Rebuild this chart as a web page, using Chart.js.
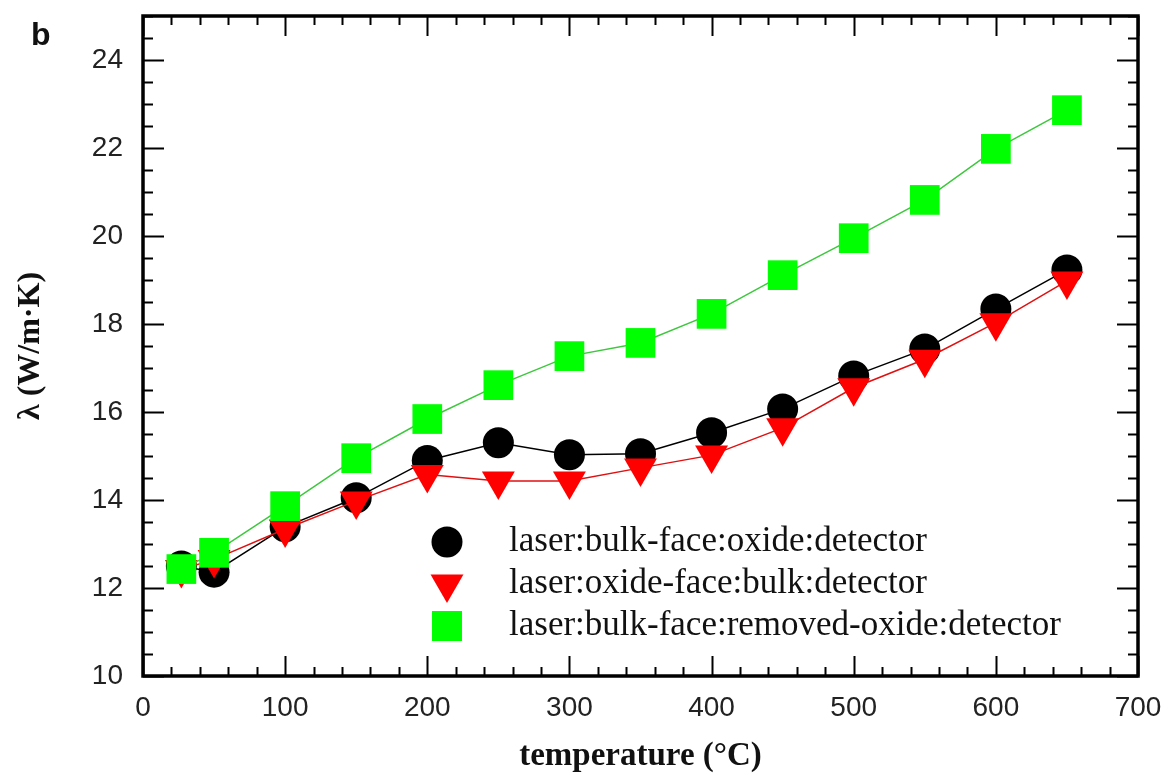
<!DOCTYPE html>
<html>
<head>
<meta charset="utf-8">
<title>thermal conductivity vs temperature</title>
<script src="https://cdn.jsdelivr.net/npm/chart.js"></script>
<style>
    html, body { margin: 0; padding: 0; background: #fff; overflow: hidden; }
    /* shifted up a few px so the plot frame sits where the original one does */
    #wrap { position: relative; top: -5px; width: 1164px; height: 781px; }
</style>
</head>
<body>
<div id="wrap"><canvas id="chart"></canvas></div>
<script>
// temperatures (°C)
const temps = [27, 50, 100, 150, 200, 250, 300, 350, 400, 450, 500, 550, 600, 650];

// lambda (W/m.K) per configuration
const bulkFaceOxide = [12.5, 12.36, 13.39, 14.05, 14.9, 15.3, 15.03, 15.05, 15.53, 16.07, 16.82, 17.43, 18.34, 19.23];
const oxideFaceBulk = [12.42, 12.65, 13.34, 13.98, 14.58, 14.43, 14.43, 14.73, 15.02, 15.64, 16.55, 17.2, 18.03, 18.98];
const bulkFaceRemovedOxide = [12.43, 12.8, 13.86, 14.95, 15.84, 16.61, 17.27, 17.57, 18.23, 19.11, 19.95, 20.82, 21.98, 22.86];

const seriesLabels = [
    'laser:bulk-face:oxide:detector',
    'laser:oxide-face:bulk:detector',
    'laser:bulk-face:removed-oxide:detector'
];

// axis ticks
const xMin = 0, xMax = 700, xMajor = 100, xMinor = 20;
const yMin = 10, yMax = 25, yMajor = 2, yMinor = 0.5;

const toPoints = (vals) => temps.map((t, i) => ({ x: t, y: vals[i] }));

// canvas is moved up by this much
const SHIFT = 5;

function noPadding(scale) {
    scale.paddingLeft = 0;
    scale.paddingRight = 0;
    scale.paddingTop = 0;
    scale.paddingBottom = 0;
}

// inward tick marks on all four sides + heavy frame
const frameTicks = {
    id: 'frameTicks',
    afterDatasetsDraw(chart) {
        const { ctx, chartArea: a, scales: { x, y } } = chart;
        ctx.save();
        ctx.strokeStyle = '#000';
        ctx.lineWidth = 2;
        ctx.beginPath();
        for (let v = xMin; v <= xMax + 1e-6; v += xMinor) {
            const px = Math.round(x.getPixelForValue(v)) + 0.5;
            const len = Math.abs(v % xMajor) < 1e-6 ? 20 : 9;
            ctx.moveTo(px, a.bottom); ctx.lineTo(px, a.bottom - len);
            ctx.moveTo(px, a.top); ctx.lineTo(px, a.top + len);
        }
        for (let v = yMin; v <= yMax + 1e-6; v += yMinor) {
            const py = Math.round(y.getPixelForValue(v)) + 0.5;
            const len = Math.abs((v - yMin) % yMajor) < 1e-6 ? 21 : 10;
            ctx.moveTo(a.left, py); ctx.lineTo(a.left + len, py);
            ctx.moveTo(a.right, py); ctx.lineTo(a.right - len, py);
        }
        ctx.stroke();
        ctx.lineWidth = 3.5;
        ctx.strokeRect(a.left, a.top, a.right - a.left, a.bottom - a.top);
        ctx.restore();
    }
};

// legend drawn inside the plot, like the original figure
const innerLegend = {
    id: 'innerLegend',
    afterDraw(chart) {
        const ctx = chart.ctx;
        const mx = 447, tx = 509;
        const rowY = [542, 584, 626];
        ctx.save();
        ctx.translate(0, SHIFT);
        chart.data.datasets.forEach((ds, i) => {
            const cy = rowY[i];
            ctx.fillStyle = ds.pointBackgroundColor;
            ctx.beginPath();
            if (ds.pointStyle === 'circle') {
                ctx.arc(mx, cy, 15.5, 0, Math.PI * 2);
            } else if (ds.pointStyle === 'triangle') {
                const r = 19;
                ctx.moveTo(mx, cy + r);
                ctx.lineTo(mx - r * 0.866, cy - r / 2);
                ctx.lineTo(mx + r * 0.866, cy - r / 2);
                ctx.closePath();
            } else {
                ctx.rect(mx - 15, cy - 15, 30, 30);
            }
            ctx.fill();
            ctx.fillStyle = '#111';
            ctx.font = '35px "Liberation Serif", "Times New Roman", serif';
            ctx.textBaseline = 'alphabetic';
            ctx.fillText(ds.label, tx, cy + 9);
        });
        // panel letter
        ctx.font = 'bold 32px "Liberation Sans", Arial, sans-serif';
        ctx.fillStyle = '#111';
        ctx.fillText('b', 31, 45);
        ctx.restore();
    }
};

const ctx = document.getElementById('chart');
new Chart(ctx, {
    type: 'scatter',
    data: {
        datasets: [{
            label: seriesLabels[0],
            data: toPoints(bulkFaceOxide),
            showLine: true,
            borderColor: '#000',
            borderWidth: 1.5,
            pointStyle: 'circle',
            pointRadius: 15.5,
            pointBackgroundColor: '#000',
            pointBorderColor: '#000',
            pointBorderWidth: 0,
            order: 2
        }, {
            label: seriesLabels[1],
            data: toPoints(oxideFaceBulk),
            showLine: true,
            borderColor: '#e01010',
            borderWidth: 1.5,
            pointStyle: 'triangle',
            rotation: 180,
            pointRadius: 19,
            pointBackgroundColor: '#ff0000',
            pointBorderColor: '#ff0000',
            pointBorderWidth: 0,
            order: 1
        }, {
            label: seriesLabels[2],
            data: toPoints(bulkFaceRemovedOxide),
            showLine: true,
            borderColor: '#3cc83c',
            borderWidth: 1.5,
            pointStyle: 'rect',
            pointRadius: 21,
            pointBackgroundColor: '#00ff00',
            pointBorderColor: '#00ff00',
            pointBorderWidth: 0,
            order: 0
        }]
    },
    options: {
        responsive: true,
        maintainAspectRatio: false,
        animation: false,
        events: [],
        layout: { padding: { left: 0, top: 15, right: 26, bottom: 0 } },
        plugins: {
            legend: { display: false },
            tooltip: { enabled: false }
        },
        scales: {
            x: {
                type: 'linear',
                min: xMin,
                max: xMax,
                grid: { display: false, drawTicks: false },
                border: { display: false },
                ticks: {
                    stepSize: xMajor,
                    padding: 15,
                    color: '#222',
                    font: { family: '"Liberation Sans", Arial, sans-serif', size: 28 }
                },
                title: {
                    display: true,
                    text: 'temperature (°C)',
                    color: '#111',
                    padding: { top: 0, bottom: 0 },
                    font: { family: '"Liberation Serif", "Times New Roman", serif', size: 33, weight: 'bold' }
                },
                afterFit(scale) {
                    scale.height = 100;
                    noPadding(scale);
                }
            },
            y: {
                type: 'linear',
                min: yMin,
                max: yMax,
                grid: { display: false, drawTicks: false },
                border: { display: false },
                ticks: {
                    stepSize: yMajor,
                    includeBounds: false,
                    padding: 20,
                    color: '#222',
                    font: { family: '"Liberation Sans", Arial, sans-serif', size: 28 }
                },
                title: {
                    display: true,
                    text: 'λ (W/m·K)',
                    color: '#111',
                    padding: { top: 12, bottom: 0 },
                    font: { family: '"Liberation Serif", "Times New Roman", serif', size: 32, weight: 'bold' }
                },
                afterFit(scale) {
                    scale.width = 143;
                    noPadding(scale);
                }
            }
        }
    },
    plugins: [frameTicks, innerLegend]
});
</script>
</body>
</html>
